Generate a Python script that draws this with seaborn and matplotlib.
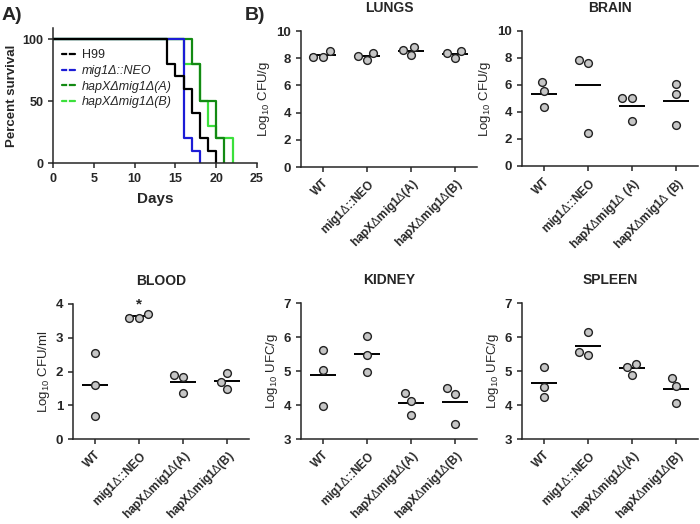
import matplotlib
matplotlib.use("Agg")
import matplotlib.pyplot as plt
import pandas as pd
import seaborn as sns

# ---- panel A: survival (Kaplan-Meier steps) ----
h99_days = [0, 14, 15, 16, 17, 18, 19, 20]
h99_surv = [100, 80, 70, 60, 40, 20, 10, 0]
mig1_days = [0, 16, 17, 18]
mig1_surv = [100, 20, 10, 0]
hapa_days = [0, 17, 18, 20, 21]
hapa_surv = [100, 80, 50, 20, 0]
hapb_days = [0, 16, 18, 19, 20, 22]
hapb_surv = [100, 80, 50, 30, 20, 0]
surv_names = ["H99", "mig1Δ::NEO", "hapXΔmig1Δ(A)", "hapXΔmig1Δ(B)"]
surv_colors = ["black", "#1c1cd6", "#138a13", "#3be03b"]

# ---- panel B: organ burdens (log10 CFU) ----
strains = ["WT", "mig1Δ::NEO", "hapXΔmig1Δ(A)", "hapXΔmig1Δ(B)"]
tick_labels = ["WT", r"mig1$\Delta$::NEO", r"hapX$\Delta$mig1$\Delta$(A)", r"hapX$\Delta$mig1$\Delta$(B)"]
brain_ticks = ["WT", r"mig1$\Delta$::NEO", r"hapX$\Delta$mig1$\Delta$ (A)", r"hapX$\Delta$mig1$\Delta$ (B)"]

lungs_wt = [8.55, 8.06, 8.06]
lungs_mig1 = [8.40, 7.86, 8.16]
lungs_hapa = [8.85, 8.21, 8.62]
lungs_hapb = [8.55, 8.03, 8.40]

brain_wt = [6.20, 5.53, 4.37]
brain_mig1 = [7.83, 7.63, 2.47]
brain_hapa = [5.06, 5.06, 3.31]
brain_hapb = [6.07, 5.36, 3.01]

blood_wt = [2.54, 1.61, 0.69]
blood_mig1 = [3.70, 3.60, 3.60]
blood_hapa = [1.90, 1.83, 1.36]
blood_hapb = [1.97, 1.70, 1.49]

kidney_wt = [5.61, 5.04, 3.96]
kidney_mig1 = [6.04, 5.46, 4.96]
kidney_hapa = [4.35, 4.13, 3.71]
kidney_hapb = [4.49, 4.33, 3.45]

spleen_wt = [5.12, 4.53, 4.25]
spleen_mig1 = [6.14, 5.57, 5.48]
spleen_hapa = [5.22, 5.12, 4.89]
spleen_hapb = [4.79, 4.55, 4.06]

sns.set_style("ticks")
plt.rcParams["font.family"] = ["Liberation Sans", "DejaVu Sans"]
plt.rcParams["mathtext.fontset"] = "custom"
plt.rcParams["mathtext.rm"] = "Liberation Sans"
plt.rcParams["mathtext.it"] = "Liberation Sans:italic"
plt.rcParams["axes.linewidth"] = 1.1
plt.rcParams["xtick.major.width"] = 1.1
plt.rcParams["ytick.major.width"] = 1.1
plt.rcParams["xtick.major.size"] = 3.5
plt.rcParams["ytick.major.size"] = 3.5

W, H = 700, 524
fig = plt.figure(figsize=(7, 5.24), dpi=100)


def px_axes(left, top, right, bottom):
    return fig.add_axes([left / W, 1 - bottom / H, (right - left) / W, (bottom - top) / H])


# ---- panel A ----
rows = []
for name, days, surv in [(surv_names[0], h99_days, h99_surv),
                         (surv_names[1], mig1_days, mig1_surv),
                         (surv_names[2], hapa_days, hapa_surv),
                         (surv_names[3], hapb_days, hapb_surv)]:
    for d, s in zip(days, surv):
        rows.append({"strain": name, "day": d, "surv": s})
surv_df = pd.DataFrame(rows)

axa = px_axes(53, 28, 257, 163)
for name, col in reversed(list(zip(surv_names, surv_colors))):
    sub = surv_df[surv_df["strain"] == name]
    sns.lineplot(data=sub, x="day", y="surv", ax=axa, color=col, lw=1.6,
                 drawstyle="steps-post", sort=False, label=name, estimator=None)
handles, labels = axa.get_legend_handles_labels()
leg = axa.legend(handles[::-1], labels[::-1], loc="upper left", bbox_to_anchor=(0.02, 0.88),
                 frameon=False, fontsize=9, handlelength=1.0, handletextpad=0.6,
                 labelspacing=0.3, borderaxespad=0)
for t in leg.get_texts()[1:]:
    t.set_fontstyle("italic")
for h in leg.legend_handles:
    h.set_drawstyle("default")
    h.set_marker("|")
    h.set_markevery([len(h.get_xdata()) // 2])
    h.set_markersize(4)
    h.set_markeredgewidth(1.2)
axa.set_xlim(0, 25)
axa.set_ylim(0, 109)
axa.set_xticks([0, 5, 10, 15, 20, 25])
axa.set_yticks([0, 50, 100])
axa.set_xlabel("Days", fontsize=11, fontweight="bold", labelpad=5)
axa.set_ylabel("Percent survival", fontsize=9.5, fontweight="bold", labelpad=3)
sns.despine(ax=axa)
for lab in axa.get_xticklabels() + axa.get_yticklabels():
    lab.set_fontweight("bold")
    lab.set_fontsize(9)

fig.text(2 / W, 1 - 15 / H, "A)", fontsize=14, fontweight="bold", va="center")
fig.text(245 / W, 1 - 15 / H, "B)", fontsize=14, fontweight="bold", va="center")

# ---- panel B ----
organs = [
    ("LUNGS", [lungs_wt, lungs_mig1, lungs_hapa, lungs_hapb], (0, 10), [0, 2, 4, 6, 8, 10],
     "Log$_{10}$ CFU/g", tick_labels, (301, 31, 477, 167)),
    ("BRAIN", [brain_wt, brain_mig1, brain_hapa, brain_hapb], (0, 10), [0, 2, 4, 6, 8, 10],
     "Log$_{10}$ CFU/g", brain_ticks, (522, 31, 698, 166)),
    ("BLOOD", [blood_wt, blood_mig1, blood_hapa, blood_hapb], (0, 4), [0, 1, 2, 3, 4],
     "Log$_{10}$ CFU/ml", tick_labels, (73, 304, 249, 439)),
    ("KIDNEY", [kidney_wt, kidney_mig1, kidney_hapa, kidney_hapb], (3, 7), [3, 4, 5, 6, 7],
     "Log$_{10}$ UFC/g", tick_labels, (301, 303, 477, 439)),
    ("SPLEEN", [spleen_wt, spleen_mig1, spleen_hapa, spleen_hapb], (3, 7), [3, 4, 5, 6, 7],
     "Log$_{10}$ UFC/g", tick_labels, (522, 303, 698, 439)),
]

for title, groups, ylim, yticks, ylabel, ticklabels, box in organs:
    df = pd.DataFrame([{"strain": s, "val": v} for s, vals in zip(strains, groups) for v in vals])
    ax = px_axes(*box)
    sns.swarmplot(data=df, x="strain", y="val", order=strains, ax=ax, color="#c6c6c6",
                  edgecolor="#222222", linewidth=1.0, size=5.6, zorder=3)
    sns.pointplot(data=df, x="strain", y="val", order=strains, ax=ax, color="black",
                  errorbar=None, linestyle="none", markers="_", markersize=19,
                  markeredgewidth=1.4, zorder=2)
    ax.set_xlim(-0.5, 3.5)
    ax.set_ylim(*ylim)
    ax.set_yticks(yticks)
    ax.set_xticks(range(4))
    ax.set_xticklabels(ticklabels, rotation=45, ha="right", rotation_mode="anchor",
                       fontsize=8.5, fontweight="bold")
    for lab in ax.get_yticklabels():
        lab.set_fontweight("bold")
        lab.set_fontsize(9.5)
    ax.set_xlabel("")
    ax.set_ylabel(ylabel, fontsize=9.5, labelpad=3)
    ax.set_title(title, fontsize=10, fontweight="bold", pad=14)
    sns.despine(ax=ax)
    if title == "BLOOD":
        ax.text(1, 3.78, "*", ha="center", va="bottom", fontsize=11, fontweight="bold")

fig.savefig("out.png", dpi=100)
